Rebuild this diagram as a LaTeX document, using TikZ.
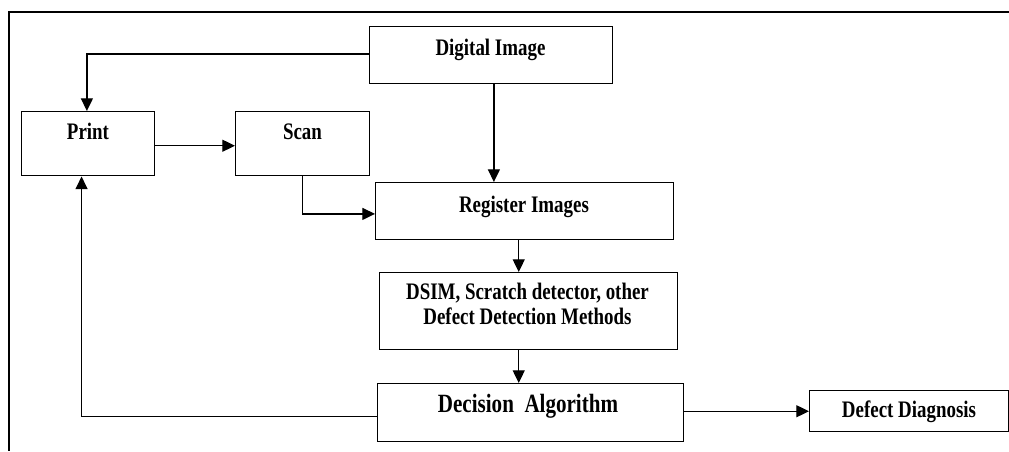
\documentclass[tikz,border=0pt]{standalone}
\usepackage{fontspec}
\setmainfont{Liberation Serif}
\usetikzlibrary{arrows.meta}
\newcommand{\st}[1]{\scalebox{1}[1.25]{#1}}
\begin{document}
\begin{tikzpicture}[x=0.75pt,y=-0.75pt,
  box/.style={draw,line width=1.1pt,rectangle,inner sep=0pt,anchor=north west},
  lbl/.style={anchor=base,inner sep=0pt,font=\fontsize{14.2pt}{17pt}\selectfont\bfseries},
  arr/.style={line width=0.9pt,-{Triangle[length=9.5pt,width=9pt]}},
  ln/.style={line width=0.9pt}]
\useasboundingbox (0,0) rectangle (1009,451);
\draw[ln] (1009,12) -- (9,12) -- (9,451);
% boxes
\node[box,minimum width=243*0.75pt,minimum height=57*0.75pt] (dig) at (369,26) {};
\node[box,minimum width=133*0.75pt,minimum height=64*0.75pt] (print) at (21,111) {};
\node[box,minimum width=134*0.75pt,minimum height=64*0.75pt] (scan) at (235,111) {};
\node[box,minimum width=298*0.75pt,minimum height=57*0.75pt] (reg) at (375,182) {};
\node[box,minimum width=298*0.75pt,minimum height=77*0.75pt] (dsim) at (379,272) {};
\node[box,minimum width=306*0.75pt,minimum height=58*0.75pt] (dec) at (377,383) {};
\node[box,minimum width=199*0.75pt,minimum height=41*0.75pt] (dd) at (809,390) {};
% labels
\node[lbl] (tdig) at (490.5,55) {\st{Digital Image}};
\node[lbl] (tprint) at (88,139) {\st{Print}};
\node[lbl] (tscan) at (302.5,139) {\st{Scan}};
\node[lbl] (treg) at (524,212) {\st{Register Images}};
\node[lbl] (tdsim1) at (527.5,299) {\st{DSIM, Scratch detector, other}};
\node[lbl] (tdsim2) at (527.5,324) {\st{Defect Detection Methods}};
\node[lbl,font=\fontsize{15.8pt}{18pt}\selectfont\bfseries] (tdec) at (528,412) {\st{Decision\ \ Algorithm}};
\node[lbl] (tdd) at (909,417) {\st{Defect Diagnosis}};
% connectors
\draw[arr] ([yshift=1pt]dig.west) -| ([xshift=-1pt]print.north);
\draw[arr] ([xshift=2pt]dig.south) -- ([xshift=2pt]dig.south |- reg.north);
\draw[arr] ([yshift=-1.5pt]print.east) -- ([yshift=-1.5pt]scan.west);
\draw[arr] (scan.south) |- ([yshift=-2pt]reg.west);
\draw[arr] ([xshift=-4.5pt]reg.south) -- ([xshift=-4.5pt]reg.south |- dsim.north);
\draw[arr] ([xshift=-7.5pt]dsim.south) -- ([xshift=-7.5pt]dsim.south |- dec.north);
\draw[arr] ([yshift=-3pt]dec.west) -| ([xshift=-5pt]print.south);
\draw[arr] (dec.east |- dd.west) -- (dd.west);
\end{tikzpicture}
\end{document}
